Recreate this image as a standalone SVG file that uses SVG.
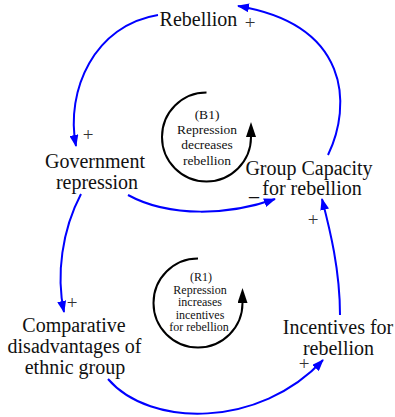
<svg xmlns="http://www.w3.org/2000/svg" width="395" height="417" viewBox="0 0 395 417" font-family="'Liberation Serif', 'DejaVu Serif', serif">
  <style>
    text { font-family: "Liberation Serif", "DejaVu Serif", serif; fill: #111; }
    .node { font-size: 20px; text-anchor: middle; }
    .sign { font-size: 19px; text-anchor: middle; fill: #333; }
    .loop { font-size: 13.5px; text-anchor: middle; }
    .loop-r { font-size: 12px; text-anchor: middle; }
    .link { fill: none; stroke: #0000ff; stroke-width: 2; marker-end: url(#blueHead); }
    .cycle { fill: none; stroke: #000; stroke-width: 2; marker-end: url(#blackHead); }
  </style>
  <defs>
    <marker id="blueHead" markerUnits="userSpaceOnUse" markerWidth="12" markerHeight="9" refX="11" refY="4.5" orient="auto">
      <path d="M0,0 L12,4.5 L0,9 z" fill="#0000ff"/>
    </marker>
    <marker id="blackHead" markerUnits="userSpaceOnUse" markerWidth="15" markerHeight="10" refX="0" refY="5" orient="auto">
      <path d="M0,0 L15,5 L0,10 z" fill="#000"/>
    </marker>
  </defs>

  <rect width="395" height="417" fill="#fff"/>

  <!-- causal links -->
  <g id="connectors">
    <path class="link" d="M158,15 C95,25 65,90 76,146"/>
    <path class="link" d="M328,155 C352,105 350,25 238,6"/>
    <path class="link" d="M128,195 C170,218 230,215 275,199"/>
    <path class="link" d="M340,315 C340,270 330,230 322,199"/>
    <path class="link" d="M81,194 C62,230 56,275 64,312"/>
    <path class="link" d="M108,379 C150,428 260,428 323,360"/>
    <!-- polarity marks -->
    <text class="sign" x="250" y="29">+</text>
    <text class="sign" x="88" y="141">+</text>
    <text class="sign" x="313" y="226">+</text>
    <text class="sign" x="72" y="309">+</text>
    <text class="sign" x="304" y="370">+</text>
    <text class="node" x="254" y="195">_</text>
  </g>

  <g id="rebellion">
    <text class="node" x="198.5" y="26">Rebellion</text>
  </g>

  <g id="government-repression">
    <text class="node" x="95" y="168">Government</text>
    <text class="node" x="97" y="189">repression</text>
  </g>

  <g id="group-capacity">
    <text class="node" x="309" y="175">Group Capacity</text>
    <text class="node" x="312" y="195">for rebellion</text>
  </g>

  <g id="comparative-disadvantages">
    <text class="node" x="74" y="332">Comparative</text>
    <text class="node" x="74.5" y="353">disadvantages of</text>
    <text class="node" x="75" y="374">ethnic group</text>
  </g>

  <g id="incentives">
    <text class="node" x="338" y="334">Incentives for</text>
    <text class="node" x="338.5" y="355">rebellion</text>
  </g>

  <!-- balancing loop B1 -->
  <g id="loop-b1">
    <path class="cycle" d="M206.5,92.5 A44.5,44.5 0 1 0 251,137"/>
    <text class="loop" x="207" y="119">(B1)</text>
    <text class="loop" x="207" y="134">Repression</text>
    <text class="loop" x="207" y="149">decreases</text>
    <text class="loop" x="207" y="165">rebellion</text>
  </g>

  <!-- reinforcing loop R1 -->
  <g id="loop-r1">
    <path class="cycle" d="M198,258.5 A44.5,44.5 0 1 0 242.5,303"/>
    <text class="loop-r" x="201" y="281" font-size="13">(R1)</text>
    <text class="loop-r" x="200" y="293.5">Repression</text>
    <text class="loop-r" x="200" y="306">increases</text>
    <text class="loop-r" x="200" y="318.5">incentives</text>
    <text class="loop-r" x="199" y="331">for rebellion</text>
  </g>
</svg>
